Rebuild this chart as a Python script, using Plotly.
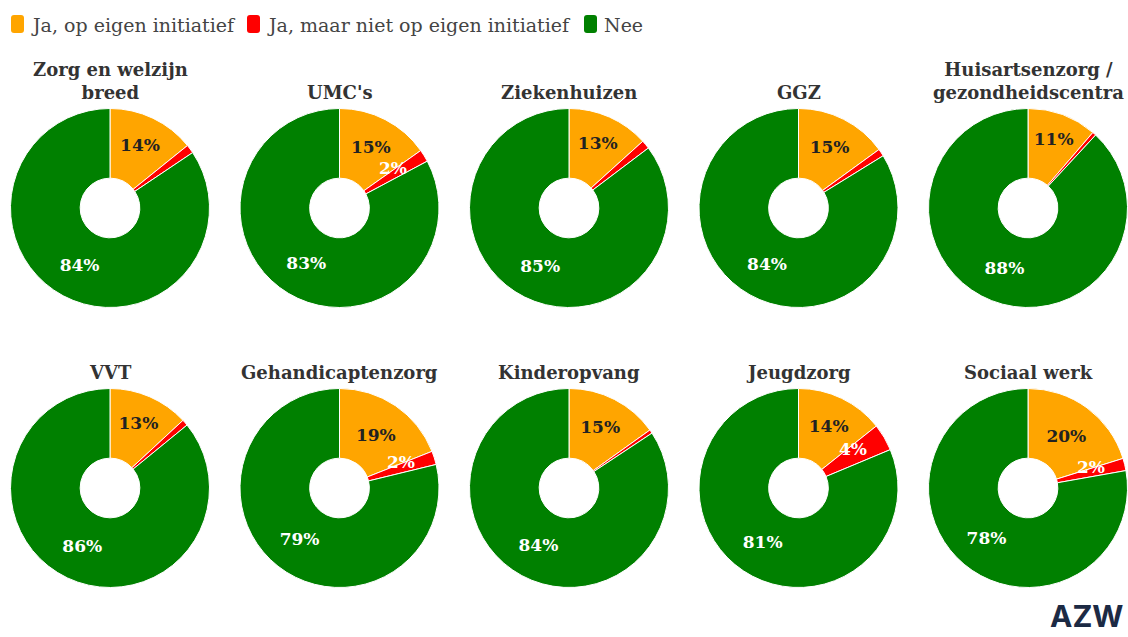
import math
import plotly.graph_objects as go

categories = ["Zorg en welzijn<br>breed", "UMC's", "Ziekenhuizen", "GGZ",
              "Huisartsenzorg /<br>gezondheidscentra",
              "VVT", "Gehandicaptenzorg", "Kinderopvang", "Jeugdzorg", "Sociaal werk"]
series_names = ["Ja, op eigen initiatief", "Ja, maar niet op eigen initiatief", "Nee"]
ja_eigen = [14.2, 15.2, 13.3, 15.0, 11.3, 13.1, 19.0, 15.1, 14.3, 20.2]
ja_niet_eigen = [1.4, 2.0, 1.4, 1.2, 0.6, 1.0, 2.2, 0.6, 4.4, 2.0]
nee = [84.4, 82.8, 85.3, 83.8, 88.1, 85.9, 78.8, 84.3, 81.3, 77.8]
colors = ["#FFA500", "#FF0000", "#008000"]

W, H = 1128, 637
SERIF = "DejaVu Serif"


def px(x):
    return x / W


def py(y):
    return 1 - y / H


def lab(v):
    return f"{v:.0f}%" if v >= 2 else ""


fig = go.Figure()
annotations = []
shapes = []

for i, cat in enumerate(categories):
    row, col = divmod(i, 5)
    cx = 110 + 229.5 * col
    cy = 208 + 280 * row
    r = 99.5
    vals = [ja_eigen[i], ja_niet_eigen[i], nee[i]]
    fig.add_trace(go.Pie(
        labels=series_names,
        values=vals,
        sort=False,
        direction="clockwise",
        rotation=0,
        hole=0.3,
        marker=dict(colors=colors, line=dict(color="white", width=1)),
        text=[lab(vals[0]), "", lab(vals[2])],
        textinfo="text",
        textposition="inside",
        insidetextorientation="horizontal",
        textfont=dict(family=SERIF, size=17, weight="bold",
                      color=["#222222", "white", "white"]),
        hoverinfo="label+percent",
        domain=dict(x=[max(0, px(cx - r)), min(1, px(cx + r))],
                    y=[py(cy + r), py(cy - r)]),
        showlegend=False,
    ))
    # label of the small red slice
    if vals[1] >= 2:
        tot = sum(vals)
        mid = (vals[0] + vals[1] / 2) / tot * 2 * math.pi - math.radians(5)
        rr = 67
        lx = cx + rr * math.sin(mid)
        ly = cy - rr * math.cos(mid)
        annotations.append(dict(x=px(lx), y=py(ly), xref="paper", yref="paper",
                                xanchor="center", yanchor="middle",
                                text=lab(vals[1]), showarrow=False,
                                font=dict(family=SERIF, size=17, weight="bold", color="white")))
    # title
    annotations.append(dict(x=px(cx), y=py(cy - r - 4), xref="paper", yref="paper",
                            xanchor="center", yanchor="bottom",
                            text=f"<b>{cat}</b>", showarrow=False,
                            font=dict(family=SERIF, size=18, color="#333333"),
                            align="center"))

# legend (rounded swatches + labels)
leg_marker_x = [11, 247, 584]
leg_text_x = [29, 265, 602]
for name, c, mx, tx in zip(series_names, colors, leg_marker_x, leg_text_x):
    x0, x1, y0, y1, rad = mx, mx + 13, 15, 33, 3
    path = (f"M {px(x0 + rad)} {py(y0)} L {px(x1 - rad)} {py(y0)} "
            f"Q {px(x1)} {py(y0)} {px(x1)} {py(y0 + rad)} L {px(x1)} {py(y1 - rad)} "
            f"Q {px(x1)} {py(y1)} {px(x1 - rad)} {py(y1)} L {px(x0 + rad)} {py(y1)} "
            f"Q {px(x0)} {py(y1)} {px(x0)} {py(y1 - rad)} L {px(x0)} {py(y0 + rad)} "
            f"Q {px(x0)} {py(y0)} {px(x0 + rad)} {py(y0)} Z")
    shapes.append(dict(type="path", path=path, xref="paper", yref="paper",
                       fillcolor=c, line=dict(width=0)))
    annotations.append(dict(x=px(tx), y=py(25), xref="paper", yref="paper",
                            xanchor="left", yanchor="middle", text=name, showarrow=False,
                            font=dict(family=SERIF, size=19, color="#444444")))

annotations.append(dict(x=px(1086), y=py(636), xref="paper", yref="paper",
                        xanchor="center", yanchor="bottom",
                        text="<b>AZW</b>", showarrow=False,
                        font=dict(family="Inter", size=30, color="#1C2A44")))

fig.update_layout(
    width=W, height=H,
    margin=dict(l=0, r=0, t=0, b=0),
    paper_bgcolor="white",
    plot_bgcolor="white",
    annotations=annotations,
    shapes=shapes,
    showlegend=False,
)

fig.write_html("out.html", config={"displayModeBar": False},
               post_script="document.body.style.margin='0';document.body.style.overflow='hidden';")
